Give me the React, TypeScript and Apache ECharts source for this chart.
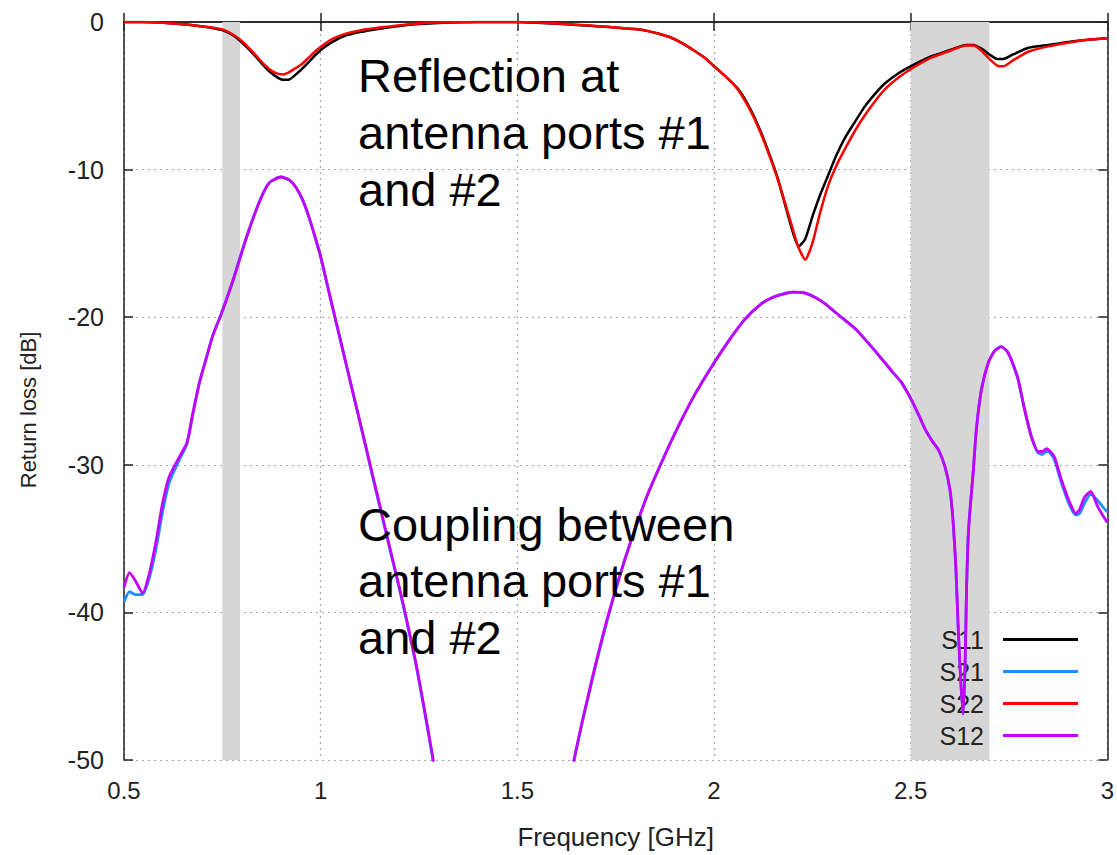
import React, { useEffect, useRef } from "react";
import * as echarts from "echarts";

// ---- Data ----
const xTicks = [0.5, 1, 1.5, 2, 2.5, 3];
const yTicks = [-50, -40, -30, -20, -10, 0];

const seriesNames = ["S11", "S21", "S22", "S12"];
const seriesColors = ["#000000", "#1e8fff", "#ff0000", "#c400ff"];

// shaded frequency bands [GHz]
const bandStart = [0.75, 2.5];
const bandEnd = [0.795, 2.7];

// reflection curves (S11, S22)
const refFreq = [
  0.5, 0.55, 0.6, 0.65, 0.7, 0.75, 0.78, 0.8, 0.83, 0.85, 0.87, 0.89, 0.905, 0.92, 0.935, 0.95, 0.97, 0.99,
  1.01, 1.03, 1.06, 1.1, 1.15, 1.2, 1.25, 1.3, 1.4, 1.5, 1.55, 1.6, 1.65, 1.7, 1.75, 1.8, 1.83, 1.86, 1.89,
  1.92, 1.95, 1.98, 2.0, 2.03, 2.06, 2.08, 2.1, 2.12, 2.14, 2.16, 2.18, 2.2, 2.215, 2.232, 2.25, 2.27, 2.29,
  2.31, 2.333, 2.36, 2.384, 2.41, 2.435, 2.47, 2.5, 2.55, 2.6, 2.64, 2.66, 2.68, 2.7, 2.72, 2.735, 2.76, 2.8,
  2.85, 2.9, 2.95, 3.0,
];
const s11Db = [
  0, 0, -0.05, -0.15, -0.3, -0.55, -0.95, -1.4, -2.2, -2.8, -3.35, -3.75, -3.92, -3.9, -3.6, -3.25, -2.7, -2.15,
  -1.7, -1.35, -0.95, -0.68, -0.45, -0.27, -0.14, -0.06, 0, 0, -0.05, -0.12, -0.2, -0.28, -0.38, -0.48, -0.6, -0.8, -1.05,
  -1.45, -1.95, -2.5, -3.0, -3.7, -4.5, -5.3, -6.3, -7.5, -8.9, -10.4, -12.3, -14.2, -15.2, -14.7, -13.2, -11.7, -10.4,
  -9.1, -7.85, -6.7, -5.7, -4.85, -4.15, -3.45, -3.0, -2.35, -1.9, -1.55, -1.55, -1.8, -2.2, -2.5, -2.5, -2.2, -1.75,
  -1.55, -1.35, -1.2, -1.1,
];
const s22Db = [
  0, 0, -0.05, -0.15, -0.3, -0.5, -0.9, -1.3, -2.1, -2.7, -3.2, -3.5, -3.55, -3.4, -3.15, -2.9, -2.4, -1.9,
  -1.5, -1.15, -0.82, -0.57, -0.38, -0.22, -0.1, -0.04, 0, 0, -0.04, -0.1, -0.18, -0.27, -0.37, -0.48, -0.6, -0.8, -1.05,
  -1.45, -1.95, -2.5, -3.0, -3.7, -4.55, -5.4, -6.4, -7.6, -9.0, -10.5, -12.2, -14.0, -15.3, -16.1, -15.0, -12.9, -11.1,
  -9.8, -8.6, -7.3, -6.3, -5.35, -4.55, -3.75, -3.2, -2.45, -1.95, -1.6, -1.6, -1.95, -2.5, -2.95, -3.0, -2.6, -2.0,
  -1.65, -1.4, -1.2, -1.1,
];

// coupling curves (S12, S21)
const cplFreq = [
  0.5, 0.514, 0.53, 0.547, 0.565, 0.582, 0.598, 0.615, 0.64, 0.66, 0.675, 0.692, 0.71, 0.725, 0.747, 0.776, 0.81,
  0.844, 0.869, 0.899, 0.92, 0.937, 0.955, 0.97, 0.985, 1.0, 1.015, 1.03, 1.047, 1.064, 1.09, 1.115, 1.132, 1.149,
  1.165, 1.182, 1.2, 1.217, 1.242, 1.262, 1.283, 1.3, 1.35, 1.45, 1.55, 1.62, 1.644, 1.67, 1.7, 1.733, 1.77, 1.8,
  1.83, 1.864, 1.9, 1.95, 2.0, 2.04, 2.08, 2.12, 2.15, 2.18, 2.2, 2.23, 2.26, 2.283, 2.31, 2.333, 2.36, 2.384, 2.41,
  2.435, 2.455, 2.476, 2.502, 2.52, 2.537, 2.555, 2.571, 2.587, 2.6, 2.608, 2.615, 2.62, 2.626, 2.633, 2.638, 2.642,
  2.646, 2.651, 2.659, 2.667, 2.68, 2.697, 2.713, 2.73, 2.745, 2.756, 2.773, 2.79, 2.807, 2.824, 2.835, 2.845, 2.855,
  2.866, 2.883, 2.905, 2.92, 2.93, 2.942, 2.958, 2.975, 2.99, 3.0,
];
const s12Db = [
  -38.3, -37.3, -37.9, -38.7, -37.3, -35.1, -32.6, -30.8, -29.5, -28.5, -26.5, -24.4, -22.7, -21.3, -19.8, -17.6, -14.7,
  -12.2, -10.9, -10.5, -10.7, -11.2, -12.1, -13.2, -14.5, -15.9, -17.6, -19.3, -21.2, -23.1, -26.0, -28.8, -30.7, -32.6,
  -34.4, -36.3, -38.3, -40.3, -43.4, -46.3, -49.5, -52.3, -58.0, -64.0, -60.0, -53.5, -50.0, -46.8, -43.4, -40.0, -36.7, -34.3,
  -32.1, -30.0, -27.9, -25.3, -23.1, -21.5, -20.1, -19.1, -18.65, -18.4, -18.3, -18.35, -18.7, -19.1, -19.7, -20.2, -20.8,
  -21.5, -22.3, -23.1, -23.75, -24.4, -25.6, -26.6, -27.6, -28.4, -29.0, -30.1, -31.7, -33.9, -37.0, -40.5, -44.0, -46.9,
  -44.0, -38.5, -35.0, -33.0, -30.5, -27.6, -24.9, -23.1, -22.3, -22.0, -22.3, -22.9, -24.2, -26.3, -28.1, -29.1, -29.1,
  -28.9, -29.1, -29.5, -31.0, -32.6, -33.3, -33.0, -32.2, -31.8, -32.8, -33.5, -33.9,
];
const s21Db = [
  -39.3, -38.6, -38.8, -38.8, -37.6, -35.6, -33.2, -31.2, -29.7, -28.6, -26.6, -24.4, -22.7, -21.3, -19.8, -17.6, -14.7,
  -12.2, -10.9, -10.5, -10.7, -11.2, -12.1, -13.2, -14.5, -15.9, -17.6, -19.3, -21.2, -23.1, -26.0, -28.8, -30.8, -32.7,
  -34.5, -36.4, -38.4, -40.4, -43.5, -46.4, -49.6, -52.4, -58.0, -64.0, -60.0, -53.6, -50.1, -46.9, -43.5, -40.1, -36.7, -34.3,
  -32.1, -30.0, -27.9, -25.3, -23.1, -21.5, -20.1, -19.1, -18.65, -18.4, -18.3, -18.35, -18.7, -19.1, -19.7, -20.2, -20.8,
  -21.5, -22.3, -23.1, -23.75, -24.4, -25.6, -26.6, -27.6, -28.4, -29.0, -30.1, -31.7, -33.9, -37.0, -40.5, -44.0, -46.9,
  -44.0, -38.5, -35.0, -33.0, -30.5, -27.6, -24.9, -23.1, -22.3, -22.0, -22.3, -22.9, -24.2, -26.3, -28.1, -29.2, -29.3,
  -29.1, -29.2, -29.7, -31.2, -32.8, -33.4, -33.3, -32.6, -32.0, -32.4, -32.9, -33.2,
];

const reflectionText = "Reflection at\nantenna ports #1\nand #2";
const couplingText = "Coupling between\nantenna ports #1\nand #2";
const xAxisTitle = "Frequency [GHz]";
const yAxisTitle = "Return loss [dB]";

const FONT = '"Liberation Sans", Arial, Helvetica, sans-serif';

function pairs(xs: number[], ys: number[]) {
  return xs.map((x, i) => [x, ys[i]]);
}

export default function App() {
  const ref = useRef<HTMLDivElement>(null);

  useEffect(() => {
    if (!ref.current) return;
    const chart = echarts.init(ref.current, null, { renderer: "svg" });

    const axisLine = { show: true, lineStyle: { color: "#222", width: 1.5 } };
    const tick = { show: true, inside: true, length: 9, lineStyle: { color: "#222", width: 1.5 } };
    const split = { show: true, lineStyle: { color: "#a8a8a8", type: [2, 4], width: 1.2 } };

    const data = [
      pairs(refFreq, s11Db),
      pairs(cplFreq, s21Db),
      pairs(refFreq, s22Db),
      pairs(cplFreq, s12Db),
    ];
    const widths = [2.5, 2.8, 2.5, 2.8];

    const series: any[] = seriesNames.map((name, i) => ({
      name,
      type: "line",
      data: data[i],
      symbol: "none",
      smooth: 0.2,
      clip: true,
      color: seriesColors[i],
      lineStyle: { color: seriesColors[i], width: widths[i] },
      z: 3 + i,
    }));
    series[0].markArea = {
      silent: true,
      itemStyle: { color: "#d6d6d6" },
      data: bandStart.map((s, i) => [{ xAxis: s }, { xAxis: bandEnd[i] }]),
    };

    chart.setOption({
      animation: false,
      backgroundColor: "#ffffff",
      grid: { left: 124, right: 8, top: 22, bottom: 95 },
      xAxis: [
        {
          type: "value",
          min: xTicks[0],
          max: xTicks[xTicks.length - 1],
          interval: xTicks[1] - xTicks[0],
          name: xAxisTitle,
          nameLocation: "middle",
          nameGap: 64,
          nameTextStyle: { fontSize: 26, fontFamily: FONT, color: "#222" },
          axisLine,
          axisTick: tick,
          splitLine: split,
          axisLabel: { fontSize: 24, fontFamily: FONT, color: "#222", margin: 18 },
        },
        {
          type: "value",
          position: "top",
          min: xTicks[0],
          max: xTicks[xTicks.length - 1],
          interval: xTicks[1] - xTicks[0],
          axisLine,
          axisTick: tick,
          splitLine: { show: false },
          axisLabel: { show: false },
        },
      ],
      yAxis: [
        {
          type: "value",
          min: yTicks[0],
          max: yTicks[yTicks.length - 1],
          interval: yTicks[1] - yTicks[0],
          axisLine,
          axisTick: tick,
          splitLine: split,
          axisLabel: { fontSize: 25, fontFamily: FONT, color: "#222", margin: 20 },
        },
        {
          type: "value",
          position: "right",
          min: yTicks[0],
          max: yTicks[yTicks.length - 1],
          interval: yTicks[1] - yTicks[0],
          axisLine,
          axisTick: tick,
          splitLine: { show: false },
          axisLabel: { show: false },
        },
      ],
      legend: {
        orient: "vertical",
        right: 39,
        top: 627,
        align: "right",
        padding: 0,
        icon: "rect",
        itemWidth: 75,
        itemHeight: 3,
        itemGap: 7,
        selectedMode: false,
        data: seriesNames,
        textStyle: { fontSize: 25, fontFamily: FONT, color: "#222", padding: [0, 14, 0, 0] },
      },
      graphic: [
        {
          type: "text",
          x: 358,
          y: 47,
          z: 100,
          style: {
            text: reflectionText,
            fontSize: 47,
            lineHeight: 57,
            fontFamily: FONT,
            fill: "#000",
            verticalAlign: "top",
          },
        },
        {
          type: "text",
          x: 358,
          y: 496,
          z: 100,
          style: {
            text: couplingText,
            fontSize: 47,
            lineHeight: 56.5,
            fontFamily: FONT,
            fill: "#000",
            verticalAlign: "top",
          },
        },
        {
          type: "text",
          x: 28,
          y: 410,
          rotation: Math.PI / 2,
          z: 100,
          style: {
            text: yAxisTitle,
            fontSize: 22,
            fontFamily: FONT,
            fill: "#222",
            align: "center",
            verticalAlign: "middle",
          },
        },
      ],
      series,
    });

    return () => chart.dispose();
  }, []);

  return (
    <div
      ref={ref}
      style={{ position: "fixed", left: 0, top: 0, width: 1117, height: 855, background: "#fff" }}
    />
  );
}
